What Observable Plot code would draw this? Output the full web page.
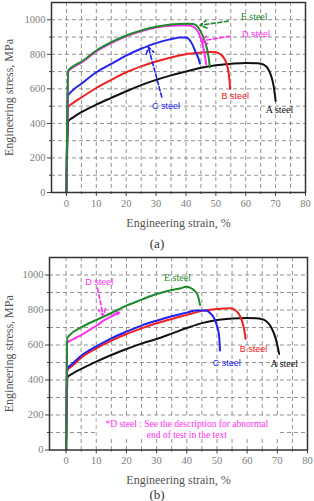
<!DOCTYPE html>
<html><head><meta charset="utf-8">
<script src="https://cdn.jsdelivr.net/npm/d3@7"></script>
<script src="https://cdn.jsdelivr.net/npm/@observablehq/plot@0.6"></script>
<style>
body{margin:0;background:#fff;width:314px;height:501px;overflow:hidden;position:relative;}
svg{font-family:'Liberation Serif',serif}
#a{position:absolute;left:0;top:0}
#b{position:absolute;left:0;top:255px}
.cap{position:absolute;left:0;width:314px;text-align:center;font:13px "Liberation Serif",serif;color:#333;line-height:13px}
</style></head><body>
<div id="a"></div><div class="cap" style="top:237px">(a)</div>
<div id="b"></div><div class="cap" style="top:488px">(b)</div>
<script>
// ---------- categories ----------
const steels = ["A steel", "B steel", "C steel", "D steel", "E steel"];
const steelColors = ["#111111", "#ee2020", "#2222ee", "#ff30f0", "#1d8a2c"];

// ---------- panel (a) : strain (%) / stress (MPa) ----------
const aStrainA = [0, 0.6, 2, 5, 10, 15, 20, 25, 30, 35, 40, 45, 50, 55, 60, 64, 66, 67.5, 68.5, 69.3, 70];
const aStressA = [0, 412, 432, 465, 509, 548, 586, 622, 652, 678, 700, 722, 737, 745, 750, 749, 740, 715, 675, 620, 530];
const aStrainB = [0, 0.5, 2, 5, 10, 15, 20, 25, 30, 35, 40, 45, 48, 50, 51.5, 53, 54, 54.5, 54.8];
const aStressB = [0, 492, 515, 550, 605, 652, 696, 730, 758, 782, 800, 810, 814, 812, 800, 770, 720, 660, 600];
const aStrainC = [0, 0.5, 2, 5, 10, 15, 20, 25, 30, 35, 38, 40, 41, 42, 43.3, 44.2, 44.7];
const aStressC = [0, 560, 590, 630, 696, 745, 793, 832, 865, 888, 897, 898, 888, 862, 810, 775, 746];
const aStrainD = [0, 0.6, 2, 5, 10, 15, 20, 25, 30, 35, 40, 42, 43.5, 44.7, 45.7, 46.3, 46.8];
const aStressD = [0, 700, 722, 752, 817, 865, 904, 933, 955, 966, 968, 963, 945, 905, 850, 795, 740];
const aStrainE = [0, 0.6, 2, 5, 10, 15, 20, 25, 30, 35, 40, 42.5, 44, 45, 46, 47, 47.6, 48];
const aStressE = [0, 706, 728, 757, 822, 870, 909, 938, 960, 973, 977, 975, 958, 930, 890, 835, 780, 725];

// ---------- panel (b) ----------
const bStrainA = [0, 0.5, 2, 5, 10, 15, 20, 25, 30, 35, 40, 45, 50, 55, 60, 63, 65.5, 67, 68, 69.5, 70.6];
const bStressA = [0, 418, 435, 463, 505, 543, 577, 608, 634, 665, 697, 725, 743, 752, 755, 753, 745, 725, 700, 635, 549];
const bStrainB = [0, 0.4, 2, 5, 10, 15, 20, 25, 30, 35, 40, 45, 50, 54.5, 56, 56.8, 57.8, 58.4, 59, 59.5];
const bStressB = [0, 455, 480, 528, 581, 625, 663, 695, 724, 749, 772, 795, 806, 810, 800, 787, 760, 730, 690, 635];
const bStrainC = [0, 0.4, 2, 5, 10, 15, 20, 25, 30, 35, 40, 43, 46.3, 48, 49, 49.6, 50.3, 50.7, 51];
const bStressC = [0, 465, 492, 539, 592, 638, 676, 711, 739, 764, 785, 797, 797, 778, 755, 730, 690, 654, 568];
const bStrainD = [0, 0.3, 2, 5, 10, 12.8, 15.5, 17];
const bStressD = [0, 612, 630, 657, 710, 743, 768, 783];
const bStrainE = [0, 0.4, 1, 5, 10, 15, 20, 25, 30, 35, 38, 39.7, 41.9, 43.6, 44.4];
const bStressE = [0, 640, 654, 701, 743, 783, 825, 859, 891, 914, 924, 933, 920, 885, 828];

// ---------- annotations (data units) ----------
const aSerifText = ["E steel", "A steel"];
const aSerifStrain = [62.8, 71.3];
const aSerifStress = [1015, 476];
const aSansText = ["D steel", "C steel", "B steel"];
const aSansStrain = [63.4, 33.3, 56.5];
const aSansStress = [916, 499, 557];
const aArrowSteel = ["E steel", "D steel", "C steel"];
const aArrowFrom = [[54.1, 992], [54.8, 905], [31.9, 553]];
const aArrowTo = [[44.7, 968], [44.9, 877], [27.4, 843]];

const bSerifText = ["E steel", "A steel"];
const bSerifStrain = [36.9, 72.3];
const bSerifStress = [986, 494];
const bSansText = ["D steel", "B steel", "C steel"];
const bSansStrain = [11, 62.1, 53.2];
const bSansStress = [958, 578, 494];
const bArrowSteel = ["D steel"];
const bArrowFrom = [[10.4, 925]];
const bArrowTo = [[12.3, 768]];
const bNote = "*D steel : See the description for abnormal\nend of test in the text";

const xTicks = d3.range(0, 81, 10);
const xMinor = d3.range(5, 80, 10);
const yTicks = d3.range(0, 1001, 200);
const yMinor = d3.range(100, 1100, 200);

const SERIF = "Liberation Serif";
const SANS = "Liberation Sans";

function rowsOf(list) {
  const rows = [];
  list.forEach(([steel, xs, ys]) => xs.forEach((x, i) => rows.push({steel, strain: x, stress: ys[i]})));
  return rows;
}
function labelsOf(texts, xs, ys) {
  return texts.map((t, i) => ({text: t, strain: xs[i], stress: ys[i]}));
}

function panel(opts) {
  const {rows, serif, sans, arrows, xDomain, height, marginBottom, marginLeft, marginRight, extra, labelOffsetX} = opts;
  return Plot.plot({
    width: 314, height, marginTop: 2, marginBottom, marginLeft, marginRight,
    style: {fontFamily: SERIF, fontSize: "10px", color: "#666", background: "white"},
    x: {domain: xDomain},
    y: {domain: [0, 1100]},
    color: {domain: steels, range: steelColors},
    marks: [
      Plot.gridX(d3.range(0, 80, 5), {stroke: "#777", strokeOpacity: 1, strokeWidth: 0.8, strokeDasharray: "4,3"}),
      Plot.gridY(d3.range(100, 1100, 100), {stroke: "#777", strokeOpacity: 1, strokeWidth: 0.8, strokeDasharray: "4,3"}),
      ...(extra || []),
      Plot.axisX(xTicks, {tickSize: 4, tickPadding: 3, tickFormat: "d", stroke: "#444", fill: "#808080", fontFamily: SERIF, fontSize: 10.5, label: null}),
      Plot.axisX({label: "Engineering strain, %", labelAnchor: "center", labelArrow: "none", labelOffset: labelOffsetX, fontSize: 12, fontFamily: SERIF, fill: "#555", tickSize: 0, tickFormat: () => "", ticks: []}),
      Plot.axisX(xMinor, {tickSize: 2, stroke: "#444", tickFormat: () => "", label: null}),
      Plot.axisY(yTicks, {tickSize: 4, tickPadding: 2, tickFormat: "d", stroke: "#444", fill: "#808080", fontFamily: SERIF, fontSize: 10.5, label: null}),
      Plot.axisY({label: "Engineering stress, MPa", labelAnchor: "center", labelArrow: "none", labelOffset: marginLeft - 4, fontSize: 12, fontFamily: SERIF, fill: "#555", tickSize: 0, tickFormat: () => "", ticks: []}),
      Plot.axisY(yMinor, {tickSize: 2, stroke: "#444", tickFormat: () => "", label: null}),
      Plot.line(rows, {x: "strain", y: "stress", z: "steel", stroke: "steel", strokeWidth: 2, curve: "monotone-x"}),
      Plot.arrow(arrows, {x1: d => d.from[0], y1: d => d.from[1], x2: d => d.to[0], y2: d => d.to[1], stroke: "steel", strokeWidth: 1.6, strokeDasharray: "4,2.5", headLength: 7, bend: false}),
      Plot.text(serif, {x: "strain", y: "stress", text: "text", fill: d => d.text, fontFamily: SERIF, fontSize: 10}),
      Plot.text(sans, {x: "strain", y: "stress", text: "text", fill: d => d.text, fontFamily: SANS, fontSize: 9}),
      Plot.frame({stroke: "#333", strokeWidth: 1.5})
    ]
  });
}

// panel (a)
const aRows = rowsOf([["A steel", aStrainA, aStressA], ["B steel", aStrainB, aStressB], ["C steel", aStrainC, aStressC], ["D steel", aStrainD, aStressD], ["E steel", aStrainE, aStressE]]);
const aArrows = aArrowSteel.map((s, i) => ({steel: s, from: aArrowFrom[i], to: aArrowTo[i]}));
document.getElementById("a").append(panel({
  rows: aRows, serif: labelsOf(aSerifText, aSerifStrain, aSerifStress), sans: labelsOf(aSansText, aSansStrain, aSansStress),
  arrows: aArrows, xDomain: [-5, 80],
  height: 232, marginBottom: 40, marginLeft: 51, marginRight: 9, labelOffsetX: 34
}));

// panel (b)
const bRows = rowsOf([["A steel", bStrainA, bStressA], ["B steel", bStrainB, bStressB], ["C steel", bStrainC, bStressC], ["D steel", bStrainD, bStressD], ["E steel", bStrainE, bStressE]]);
const bArrows = bArrowSteel.map((s, i) => ({steel: s, from: bArrowFrom[i], to: bArrowTo[i]}));
const bExtra = [
  Plot.rect([{x1: 10.3, x2: 70.6, y1: 72, y2: 190}], {x1: "x1", x2: "x2", y1: "y1", y2: "y2", fill: "white"}),
  Plot.text([bNote], {x: 40, y: 122, text: d => d, fill: "#ff30f0", fontFamily: SERIF, fontSize: 9.5, lineHeight: 1.15}),
  Plot.arrow([{x1: 15.6, y1: 770, x2: 17.6, y2: 786}], {x1: "x1", y1: "y1", x2: "x2", y2: "y2", stroke: "#ff30f0", strokeWidth: 2, headLength: 6, bend: false})
];
document.getElementById("b").append(panel({
  rows: bRows, serif: labelsOf(bSerifText, bSerifStrain, bSerifStress), sans: labelsOf(bSansText, bSansStrain, bSansStress),
  arrows: bArrows, xDomain: [-5.5, 80],
  height: 240, marginBottom: 45.5, marginLeft: 49, marginRight: 7, labelOffsetX: 34, extra: bExtra
}));
</script>
</body></html>
